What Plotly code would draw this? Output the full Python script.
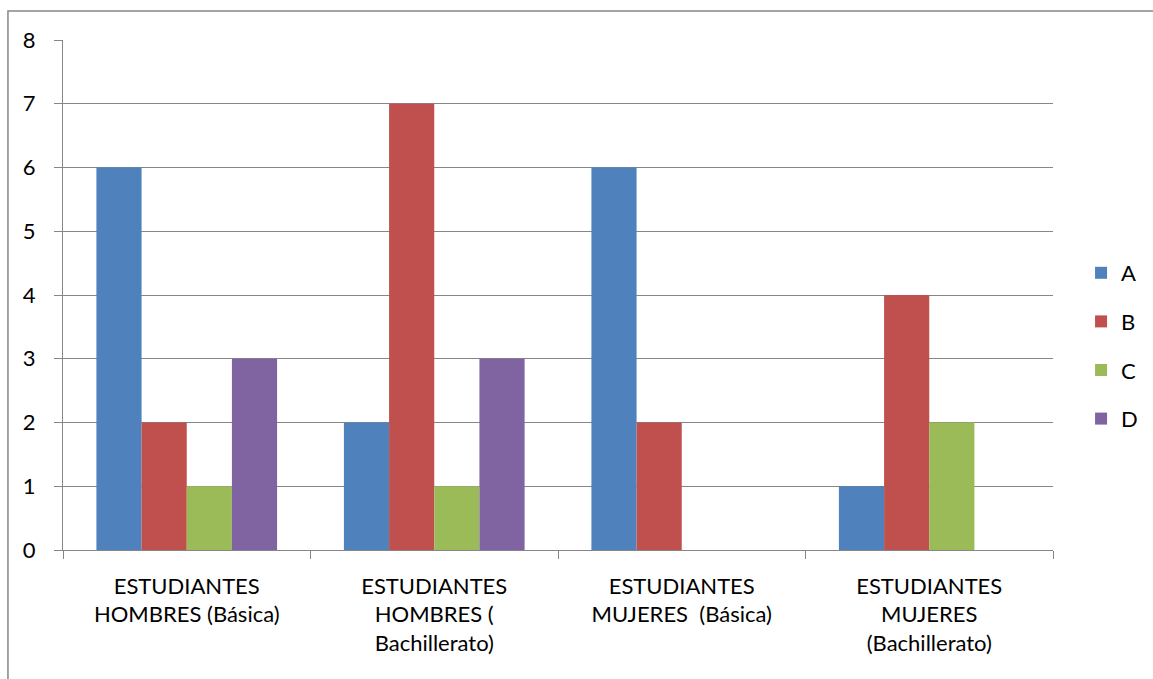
import plotly.graph_objects as go

categories = ["ESTUDIANTES<br>HOMBRES (Básica)",
              "ESTUDIANTES<br>HOMBRES (<br>Bachillerato)",
              "ESTUDIANTES<br>MUJERES  (Básica)",
              "ESTUDIANTES<br>MUJERES<br>(Bachillerato)"]
serie_a = [6, 2, 6, 1]
serie_b = [2, 7, 2, 4]
serie_c = [1, 1, 0, 2]
serie_d = [3, 3, 0, 0]
series_names = ["A", "B", "C", "D"]
colors = ["#4F81BD", "#C0504D", "#9BBB59", "#8064A2"]

font_family = "Lato, 'Open Sans', sans-serif"
grid_color = "#868686"

fig = go.Figure()
for name, vals, col in zip(series_names, [serie_a, serie_b, serie_c, serie_d], colors):
    fig.add_trace(go.Bar(x=categories, y=vals, name=name, legendgroup=name,
                         marker=dict(color=col, line=dict(width=0))))

fig.update_layout(
    width=1153, height=679,
    margin=dict(l=63, r=100, t=40, b=129),
    paper_bgcolor="white", plot_bgcolor="white",
    font=dict(family=font_family, size=22, color="black"),
    barmode="group", bargap=0.27, bargroupgap=0,
    showlegend=True,
    legend=dict(xref="container", x=0.9376, y=0.40, xanchor="left", yanchor="middle",
                font=dict(size=22), tracegroupgap=17, traceorder="grouped",
                itemwidth=30),
    xaxis=dict(showline=True, linecolor=grid_color, linewidth=1.3,
               ticks="outside", tickson="boundaries", ticklen=8,
               tickcolor=grid_color, tickwidth=1.3, showgrid=False,
               automargin=False, ticklabelstandoff=16),
    yaxis=dict(range=[0, 8], dtick=1, showline=True, linecolor=grid_color,
               linewidth=1.3, ticks="outside", ticklen=8, tickcolor=grid_color,
               tickwidth=1.3, showgrid=True, gridcolor=grid_color, gridwidth=1.3,
               zeroline=False, ticklabelstandoff=14, automargin=False),
    shapes=[dict(type="rect", xref="paper", yref="paper",
                 x0=-0.0556, x1=1.3, y0=-0.5, y1=1.0569,
                 line=dict(color=grid_color, width=1.5), layer="below")],
)

fig.write_html("out.html", config={"displayModeBar": False},
               post_script="document.body.style.margin='0';")
